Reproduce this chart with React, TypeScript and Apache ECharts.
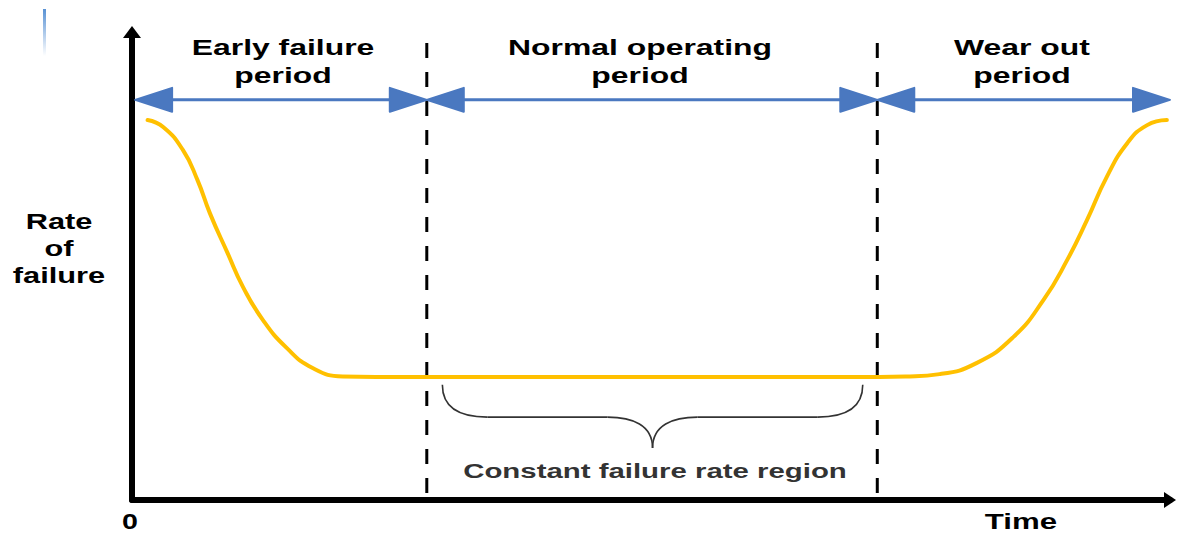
import React, { useEffect, useRef } from "react";
import * as echarts from "echarts";

// Bathtub curve: time (0-100) vs rate of failure (0-100)
const timeValues = [1.5, 3, 4.9, 6.3, 7.5, 9.2, 10.7, 12.6, 14.9, 17.4, 20.3, 23.5, 72, 74.5, 77.8, 81.4, 84.9, 87.8, 90.1, 92, 93.9, 95.9, 97.8, 99.7];
const failureRate = [81.2, 79.7, 74.8, 68.4, 61.3, 52.8, 45.5, 38.5, 32.5, 28.2, 26.4, 26.3, 26.3, 26.4, 26.9, 29.3, 34.8, 42.7, 51.3, 59.8, 69, 76.3, 80.1, 81.2];

// Phase boundaries (dashed lines) and the span they cover vertically
const phaseBoundaries = [28.4, 71.8];
const boundarySpan = [1.5, 98];

// Double-headed arrows for the three periods
const phaseArrows = [
  [0.3, 28.4],
  [28.4, 71.8],
  [71.8, 100],
];
const arrowLevel = 85.5;

// Curly brace below the constant region: [start, end, top, middle, tip]
const braceSpec = [29.9, 70.4, 24.6, 17.7, 11.1];

const phaseLabels = ["Early failure\nperiod", "Normal operating\nperiod", "Wear out\nperiod"];
const yAxisLabel = "Rate\nof\nfailure";
const xAxisLabel = "Time";
const originLabel = "0";
const braceLabel = "Constant failure rate region";

const FONT = "'Liberation Sans', Arial, Helvetica, sans-serif";
const BLUE = "#4A78C0";

export default function App() {
  const ref = useRef<HTMLDivElement>(null);

  useEffect(() => {
    if (!ref.current) return;
    const chart = echarts.init(ref.current, null, { renderer: "svg" });

    const headerPos = [
      [283, 61],
      [640, 61],
      [1022, 61],
    ];

    const textEl = (text: string, x: number, y: number, size: number, lh: number, sx: number, color = "#000") => ({
      type: "text",
      x,
      y,
      scaleX: sx,
      scaleY: 1,
      silent: true,
      style: {
        text,
        fontSize: size,
        fontWeight: "bold",
        fontFamily: FONT,
        align: "center",
        verticalAlign: "middle",
        lineHeight: lh,
        fill: color,
      },
    });

    const option: any = {
      animation: false,
      backgroundColor: "#ffffff",
      grid: { left: 132, right: 12, top: 32, bottom: 37 },
      xAxis: {
        type: "value",
        min: 0,
        max: 100,
        splitLine: { show: false },
        axisTick: { show: false },
        axisLabel: { show: false },
        axisLine: {
          show: true,
          onZero: false,
          symbol: ["none", "triangle"],
          symbolSize: [16, 12],
          lineStyle: { color: "#000", width: 6 },
        },
      },
      yAxis: {
        type: "value",
        min: 0,
        max: 100,
        splitLine: { show: false },
        axisTick: { show: false },
        axisLabel: { show: false },
        axisLine: {
          show: true,
          onZero: false,
          symbol: ["none", "triangle"],
          symbolSize: [18, 12],
          lineStyle: { color: "#000", width: 6 },
        },
      },
      series: [
        {
          type: "line",
          data: timeValues.map((t, i) => [t, failureRate[i]]),
          smooth: 0.5,
          showSymbol: false,
          lineStyle: { color: "#FFC000", width: 4, cap: "round" },
          z: 3,
        },
        ...phaseBoundaries.map((b) => ({
          type: "line",
          data: [
            [b, boundarySpan[0]],
            [b, boundarySpan[1]],
          ],
          showSymbol: false,
          lineStyle: { color: "#000", width: 3, type: [15, 14] },
          z: 2,
        })),
        {
          type: "custom",
          data: phaseArrows.map((a) => [a[0], a[1], arrowLevel]),
          z: 4,
          renderItem: (params: any, api: any) => {
            const p0 = api.coord([api.value(0), api.value(2)]);
            const p1 = api.coord([api.value(1), api.value(2)]);
            const L = 37;
            const H = 12;
            const y = p0[1];
            const st = { fill: BLUE, stroke: BLUE, lineWidth: 2, lineJoin: "round" };
            return {
              type: "group",
              children: [
                {
                  type: "line",
                  shape: { x1: p0[0] + L - 2, y1: y, x2: p1[0] - L + 2, y2: y },
                  style: { stroke: BLUE, lineWidth: 3 },
                },
                {
                  type: "polygon",
                  shape: { points: [[p0[0], y], [p0[0] + L, y - H], [p0[0] + L, y + H]] },
                  style: st,
                },
                {
                  type: "polygon",
                  shape: { points: [[p1[0], y], [p1[0] - L, y - H], [p1[0] - L, y + H]] },
                  style: st,
                },
              ],
            };
          },
        },
        {
          type: "custom",
          data: [braceSpec],
          z: 4,
          renderItem: (params: any, api: any) => {
            const x0 = api.value(0);
            const x1 = api.value(1);
            const xm = (x0 + x1) / 2;
            const a = api.coord([x0, api.value(2)]);
            const m = api.coord([xm, api.value(3)]);
            const tip = api.coord([xm, api.value(4)]);
            const b = api.coord([x1, api.value(2)]);
            const yMid = m[1];
            const curl = 45;
            const st = { stroke: "#333", lineWidth: 1.6, fill: "none" };
            return {
              type: "group",
              children: [
                {
                  type: "bezierCurve",
                  shape: { x1: a[0], y1: a[1], cpx1: a[0], cpy1: a[1] + 22, cpx2: a[0] + 15, cpy2: yMid, x2: a[0] + curl, y2: yMid },
                  style: st,
                },
                {
                  type: "line",
                  shape: { x1: a[0] + curl, y1: yMid, x2: tip[0] - curl, y2: yMid },
                  style: st,
                },
                {
                  type: "bezierCurve",
                  shape: { x1: tip[0] - curl, y1: yMid, cpx1: tip[0] - 20, cpy1: yMid, cpx2: tip[0], cpy2: yMid + 8, x2: tip[0], y2: tip[1] },
                  style: st,
                },
                {
                  type: "bezierCurve",
                  shape: { x1: tip[0], y1: tip[1], cpx1: tip[0], cpy1: yMid + 8, cpx2: tip[0] + 20, cpy2: yMid, x2: tip[0] + curl, y2: yMid },
                  style: st,
                },
                {
                  type: "line",
                  shape: { x1: tip[0] + curl, y1: yMid, x2: b[0] - curl, y2: yMid },
                  style: st,
                },
                {
                  type: "bezierCurve",
                  shape: { x1: b[0] - curl, y1: yMid, cpx1: b[0] - 15, cpy1: yMid, cpx2: b[0], cpy2: b[1] + 22, x2: b[0], y2: b[1] },
                  style: st,
                },
              ],
            };
          },
        },
      ],
      graphic: [
        {
          type: "rect",
          shape: { x: 43, y: 9, width: 3, height: 47 },
          silent: true,
          style: {
            fill: new echarts.graphic.LinearGradient(0, 0, 0, 1, [
              { offset: 0, color: "rgba(80,140,210,0.95)" },
              { offset: 1, color: "rgba(80,140,210,0)" },
            ]),
          },
        },
        ...phaseLabels.map((t, i) => textEl(t, headerPos[i][0], headerPos[i][1], 22, 28, 1.45)),
        textEl(yAxisLabel, 59, 249, 22, 27, 1.4),
        textEl(originLabel, 130, 521, 22, 24, 1.3),
        textEl(xAxisLabel, 1021, 522, 22, 24, 1.42),
        textEl(braceLabel, 655, 471, 20, 24, 1.47, "#333"),
      ],
    };

    chart.setOption(option);
    return () => chart.dispose();
  }, []);

  return <div ref={ref} style={{ position: "absolute", left: 0, top: 0, width: 1182, height: 537 }} />;
}
